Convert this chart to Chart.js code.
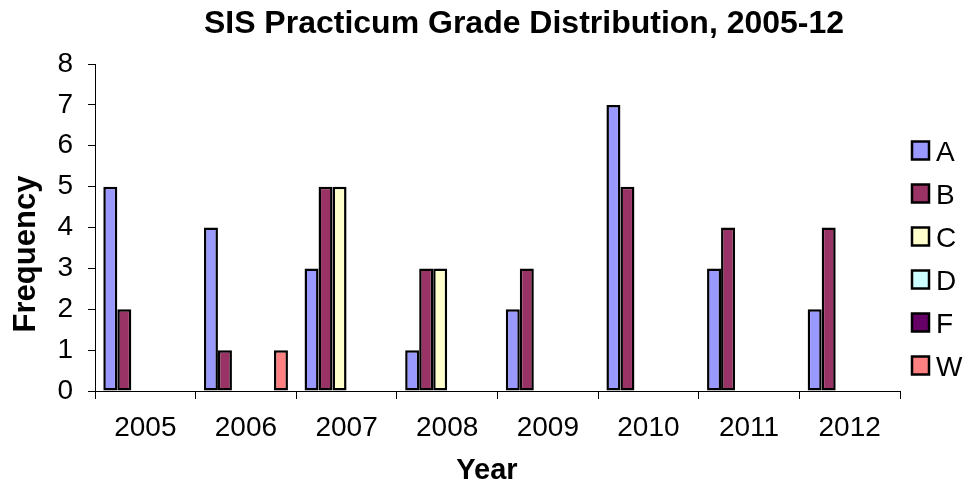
<!DOCTYPE html>
<html>
<head>
<meta charset="utf-8">
<script src="https://cdn.jsdelivr.net/npm/chart.js@4"></script>
<style>
  html, body { margin: 0; padding: 0; background: #fff; }
</style>
</head>
<body>
<canvas id="grades" width="980" height="485"></canvas>
<script>
// grade counts per year
const years = ['2005', '2006', '2007', '2008', '2009', '2010', '2011', '2012'];
const gradeA = [5, 4, 3, 1, 2, 7, 3, 2];
const gradeB = [2, 1, 5, 3, 3, 5, 4, 4];
const gradeC = [0, 0, 5, 3, 0, 0, 0, 0];
const gradeD = [0, 0, 0, 0, 0, 0, 0, 0];
const gradeF = [0, 0, 0, 0, 0, 0, 0, 0];
const gradeW = [0, 1, 0, 0, 0, 0, 0, 0];
const yTicks = [0, 1, 2, 3, 4, 5, 6, 7, 8];

const chartTitle = 'SIS Practicum Grade Distribution, 2005-12';
const xTitle = 'Year';
const yTitle = 'Frequency';

const FONT = '"Liberation Sans", Arial, sans-serif';

// title, axis titles and legend drawn by hand so they sit where excel put them
const chartText = {
  id: 'chartText',
  afterDraw(chart) {
    const ctx = chart.ctx;
    ctx.save();
    ctx.fillStyle = '#000';
    ctx.textAlign = 'center';
    ctx.textBaseline = 'alphabetic';
    ctx.font = 'bold 32px ' + FONT;
    ctx.fillText(chartTitle, 524, 33);
    ctx.font = 'bold 29px ' + FONT;
    ctx.fillText(xTitle, 487, 479);
    ctx.save();
    ctx.translate(35, 254);
    ctx.rotate(-Math.PI / 2);
    ctx.font = 'bold 31px ' + FONT;
    ctx.fillText(yTitle, 0, 0);
    ctx.restore();

    // legend
    ctx.textAlign = 'left';
    ctx.font = '28px ' + FONT;
    ctx.lineWidth = 2.5;
    ctx.strokeStyle = '#000';
    chart.data.datasets.forEach((ds, i) => {
      const cy = 150.5 + i * 43;
      ctx.fillStyle = ds.backgroundColor;
      ctx.fillRect(912, cy - 9, 17, 18);
      ctx.strokeRect(912, cy - 9, 17, 18);
      ctx.fillStyle = '#000';
      ctx.fillText(ds.label, 936, cy + 10);
    });
    ctx.restore();
  }
};

const bar = (label, data, color) => ({
  label: label,
  data: data,
  backgroundColor: color,
  borderColor: '#000',
  borderWidth: 2.5,
  borderSkipped: false
});

new Chart(document.getElementById('grades'), {
  type: 'bar',
  data: {
    labels: years,
    datasets: [
      bar('A', gradeA, '#9999FF'),
      bar('B', gradeB, '#993366'),
      bar('C', gradeC, '#FFFFCC'),
      bar('D', gradeD, '#CCFFFF'),
      bar('F', gradeF, '#660066'),
      bar('W', gradeW, '#FF8080')
    ]
  },
  options: {
    responsive: false,
    animation: false,
    layout: { padding: { top: 64, right: 80, left: 0, bottom: 0 } },
    datasets: { bar: { categoryPercentage: 0.835, barPercentage: 1 } },
    plugins: {
      legend: { display: false },
      title: { display: false },
      tooltip: { enabled: false }
    },
    scales: {
      x: {
        grid: { drawOnChartArea: false, drawTicks: true, tickLength: 8, color: '#000', offset: true },
        border: { color: '#000', width: 1 },
        ticks: { color: '#000', font: { family: FONT, size: 28 }, padding: 12, maxRotation: 0 },
        afterFit: s => { s.height = 94; }
      },
      y: {
        min: 0,
        max: yTicks[yTicks.length - 1],
        afterBuildTicks: s => { s.ticks = yTicks.map(v => ({ value: v })); },
        grid: { drawOnChartArea: false, drawTicks: true, tickLength: 7, color: '#000' },
        border: { color: '#000', width: 1 },
        ticks: { color: '#000', font: { family: FONT, size: 28 }, padding: 15 },
        afterFit: s => { s.width = 95; }
      }
    }
  },
  plugins: [chartText]
});
</script>
</body>
</html>
